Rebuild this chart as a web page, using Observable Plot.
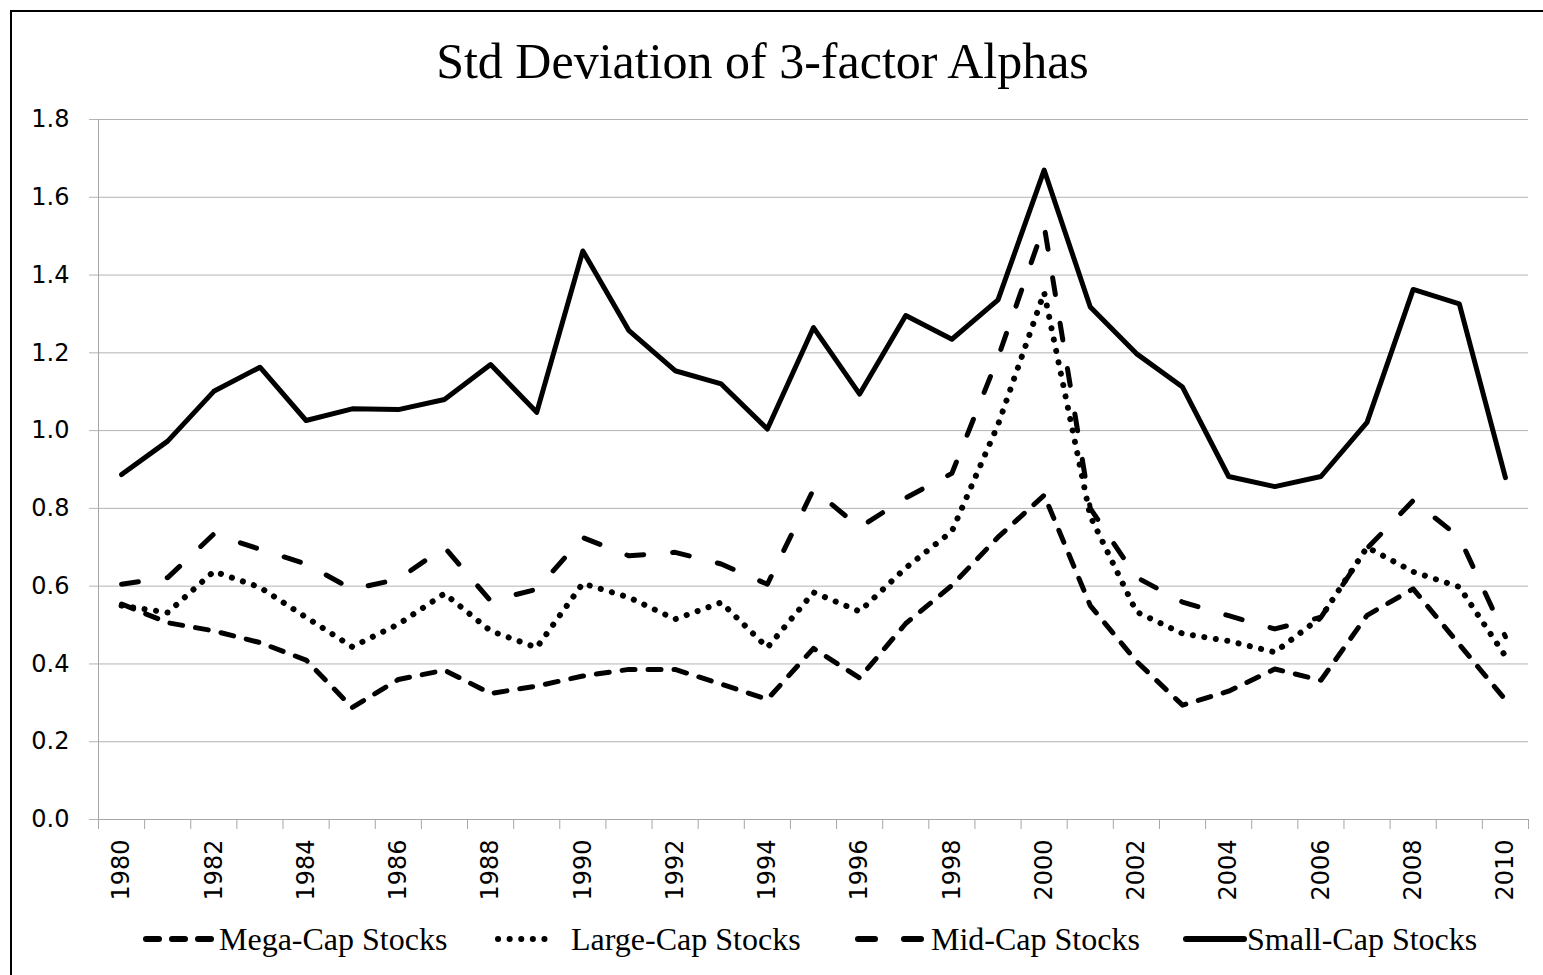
<!DOCTYPE html>
<html>
<head>
<meta charset="utf-8">
<script src="https://cdn.jsdelivr.net/npm/d3@7"></script>
<script src="https://cdn.jsdelivr.net/npm/@observablehq/plot@0.6"></script>
<style>
  html, body { margin:0; padding:0; background:#fff; }
  body { width:1543px; height:975px; position:relative; overflow:hidden; }
  #frame { position:absolute; left:10px; top:10px; width:1560px; height:1000px; border-left:2.5px solid #000; border-top:2.5px solid #000; box-sizing:border-box; }
  #title { position:absolute; left:0; width:1525px; top:36px; text-align:center; font-family:"Liberation Serif","Times New Roman",serif; font-size:50px; line-height:50px; color:#000; }
  #chart { position:absolute; left:0; top:100px; }
  .leg { position:absolute; top:921px; height:36px; display:flex; align-items:center; font-family:"Liberation Serif","Times New Roman",serif; font-size:32px; line-height:36px; color:#000; white-space:nowrap; }
  .leg svg { display:block; }
</style>
</head>
<body>
<div id="frame"></div>
<div id="title">Std Deviation of 3-factor Alphas</div>
<div id="chart"></div>
<div id="legend"></div>
<script>
const years = [1980,1981,1982,1983,1984,1985,1986,1987,1988,1989,1990,1991,1992,1993,1994,1995,1996,1997,1998,1999,2000,2001,2002,2003,2004,2005,2006,2007,2008,2009,2010];
const xTickLabels = [1980,1982,1984,1986,1988,1990,1992,1994,1996,1998,2000,2002,2004,2006,2008,2010];
const yTicks = [0,0.2,0.4,0.6,0.8,1.0,1.2,1.4,1.6,1.8];

const megaCap  = [0.554,0.506,0.485,0.455,0.410,0.288,0.360,0.384,0.324,0.343,0.369,0.386,0.386,0.348,0.309,
                  0.440,0.364,0.504,0.602,0.726,0.834,0.550,0.407,0.294,0.330,0.387,0.358,0.525,0.593,0.450,0.308];
const largeCap = [0.550,0.532,0.638,0.597,0.520,0.444,0.502,0.581,0.485,0.442,0.607,0.571,0.515,0.558,0.442,
                  0.584,0.535,0.647,0.741,1.015,1.355,0.780,0.534,0.478,0.459,0.430,0.520,0.700,0.637,0.598,0.420];
const midCap   = [0.605,0.622,0.734,0.695,0.657,0.592,0.618,0.700,0.562,0.592,0.725,0.678,0.687,0.657,0.605,
                  0.849,0.751,0.827,0.890,1.188,1.527,0.800,0.623,0.559,0.524,0.490,0.520,0.697,0.820,0.726,0.470];
const smallCap = [0.887,0.973,1.101,1.163,1.026,1.056,1.054,1.080,1.170,1.047,1.462,1.257,1.154,1.120,1.004,
                  1.265,1.094,1.296,1.235,1.336,1.670,1.318,1.198,1.112,0.882,0.856,0.882,1.021,1.363,1.326,0.879];

const seriesNames = ["Mega-Cap Stocks","Large-Cap Stocks","Mid-Cap Stocks","Small-Cap Stocks"];
const seriesValues = [megaCap, largeCap, midCap, smallCap];
const dashes = ["13,13", "0.1,11.5", "17,29", null];
const widths = [5, 6, 5, 5];

const table = (vals) => years.map((yr, i) => ({year: yr, value: vals[i]}));
const boundaries = years.map(y => y - 0.5).concat([years[years.length-1] + 0.5]);

const tickFont = "DejaVu Sans, Verdana, sans-serif";
const gridColor = "#b3b3b3";
const axisColor = "#a6a6a6";

const lineMarks = seriesValues.map((vals, k) => Plot.line(table(vals), {
  x: "year", y: "value", stroke: "#000", strokeWidth: widths[k],
  strokeDasharray: dashes[k] || undefined,
  strokeLinecap: "round", strokeLinejoin: "round"
}));

const chart = Plot.plot({
  width: 1543, height: 810,
  marginLeft: 98, marginRight: 15, marginTop: 19, marginBottom: 91,
  x: {domain: [boundaries[0], boundaries[boundaries.length-1]]},
  y: {domain: [0, 1.8]},
  style: {background: "transparent", overflow: "visible", fontFamily: tickFont, color: "#000"},
  marks: [
    Plot.gridY(yTicks, {stroke: gridColor, strokeOpacity: 1}),
    Plot.axisY({ticks: yTicks, tickFormat: d3.format(".1f"), tickSize: 9, tickPadding: 20,
                stroke: gridColor, fill: "#000", fontSize: 24, fontFamily: tickFont, label: null}),
    Plot.ruleY([0], {stroke: axisColor}),
    Plot.ruleX([boundaries[0]], {stroke: axisColor}),
    Plot.axisX({ticks: boundaries, tickSize: 10, tickFormat: () => "", stroke: axisColor, label: null}),
    Plot.axisX({ticks: xTickLabels, tickSize: 0, tickRotate: -90, tickPadding: 20,
                fill: "#000", fontSize: 24, fontFamily: tickFont, tickFormat: d => String(d), label: null}),
    ...lineMarks
  ]
});
document.getElementById("chart").appendChild(chart);

// Legend
const legendItems = [
  {left: 143, sample: 76, dash: dashes[0]},
  {left: 495, sample: 58, dash: dashes[1], gapAfter: 18},
  {left: 855, sample: 76, dash: dashes[2]},
  {left: 1183, sample: 64, dash: dashes[3]}
];
const legend = document.getElementById("legend");
legendItems.forEach((it, k) => {
  const div = document.createElement("div");
  div.className = "leg";
  div.style.left = it.left + "px";
  const ns = "http://www.w3.org/2000/svg";
  const svg = document.createElementNS(ns, "svg");
  svg.setAttribute("width", it.sample);
  svg.setAttribute("height", 12);
  const ln = document.createElementNS(ns, "line");
  ln.setAttribute("x1", 3); ln.setAttribute("x2", it.sample - 3);
  ln.setAttribute("y1", 6); ln.setAttribute("y2", 6);
  ln.setAttribute("stroke", "#000"); ln.setAttribute("stroke-width", 6);
  ln.setAttribute("stroke-linecap", "round");
  if (it.dash) ln.setAttribute("stroke-dasharray", it.dash);
  svg.appendChild(ln);
  div.appendChild(svg);
  const span = document.createElement("span");
  span.textContent = seriesNames[k];
  if (it.gapAfter) span.style.marginLeft = it.gapAfter + "px";
  div.appendChild(span);
  legend.appendChild(div);
});
</script>
</body>
</html>
